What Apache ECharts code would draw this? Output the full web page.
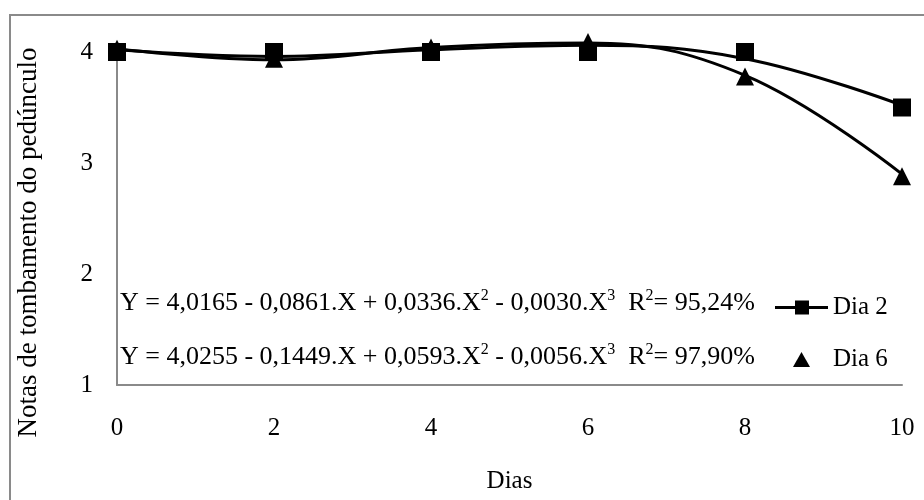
<!DOCTYPE html>
<html>
<head>
<meta charset="utf-8">
<script src="https://cdn.jsdelivr.net/npm/echarts@6/dist/echarts.min.js"></script>
<style>
  html, body { margin: 0; padding: 0; background: #fff; }
  #chart { width: 924px; height: 500px; }
</style>
</head>
<body>
<div id="chart"></div>
<script>
// dias de avaliação
const dias = [0, 2, 4, 6, 8, 10]

// valores observados (marcadores)
const dia2Obs = [4, 4, 4, 4, 4, 3.5]
const dia6Obs = [4.03, 3.94, 4.04, 4.09, 3.78, 2.88]

// curvas ajustadas
const dia2Curve = [4.02, 3.96, 4.02, 4.06, 3.94, 3.52]
const dia6Curve = [4.03, 3.93, 4.04, 4.08, 3.79, 2.9]

const yTicks = [1, 2, 3, 4]

const eq1 = ['Y = 4,0165 - 0,0861.X + 0,0336.X', '2', ' - 0,0030.X', '3', '  R', '2', '= 95,24%']
const eq2 = ['Y = 4,0255 - 0,1449.X + 0,0593.X', '2', ' - 0,0056.X', '3', '  R', '2', '= 97,90%']

const FONT = 'Liberation Serif'
const GRAY = '#8a8a8a'

const pairs = (xs, ys) => xs.map((x, i) => [x, ys[i]])

// monta texto rico com expoentes
function richEq(parts) {
  return parts.map((p, i) => (i % 2 ? `{s|${p}}` : `{n|${p}}`)).join('')
}

const eqRich = {
  n: { fontFamily: FONT, fontSize: 26, lineHeight: 30, fill: '#000' },
  s: { fontFamily: FONT, fontSize: 16, lineHeight: 30, verticalAlign: 'top', fill: '#000' }
}

const chart = echarts.init(document.getElementById('chart'))

const option = {
  animation: false,
  backgroundColor: '#fff',
  textStyle: { fontFamily: FONT },
  grid: { left: 117, right: 22, top: 52, bottom: 115 },
  xAxis: {
    type: 'value',
    min: 0,
    max: 10,
    interval: 2,
    name: 'Dias',
    nameLocation: 'middle',
    nameGap: 84,
    nameTextStyle: { fontFamily: FONT, fontSize: 25, color: '#000' },
    axisLine: { lineStyle: { color: GRAY, width: 2 } },
    axisTick: { show: false },
    splitLine: { show: false },
    axisLabel: { fontFamily: FONT, fontSize: 25, color: '#000', margin: 31 }
  },
  yAxis: {
    type: 'value',
    min: yTicks[0],
    max: yTicks[yTicks.length - 1],
    interval: 1,
    name: 'Notas de tombamento do pedúnculo',
    nameLocation: 'middle',
    nameGap: 75,
    nameTextStyle: { fontFamily: FONT, fontSize: 27, color: '#000', padding: [0, 48, 0, 0] },
    axisLine: { show: true, lineStyle: { color: GRAY, width: 2 } },
    axisTick: { show: false },
    splitLine: { show: false },
    axisLabel: { fontFamily: FONT, fontSize: 25, color: '#000', margin: 24 }
  },
  legend: [
    {
      left: 770,
      top: 290,
      itemWidth: 53,
      itemHeight: 14,
      data: [{ name: 'Dia 2', icon: 'path://M0,5.5H20V0H34V5.5H53V8.5H34V14H20V8.5H0Z' }],
      textStyle: { fontFamily: FONT, fontSize: 25, color: '#000' }
    },
    {
      left: 788,
      top: 342,
      itemWidth: 17,
      itemHeight: 15,
      data: [{ name: 'Dia 6', icon: 'triangle' }],
      textStyle: { fontFamily: FONT, fontSize: 25, color: '#000', padding: [0, 0, 0, 18] }
    }
  ],
  graphic: [
    {
      type: 'rect',
      shape: { x: 10, y: 15, width: 940, height: 520 },
      style: { fill: 'none', stroke: GRAY, lineWidth: 2 },
      silent: true
    },
    {
      type: 'text',
      left: 120,
      top: 288,
      style: { text: richEq(eq1), rich: eqRich }
    },
    {
      type: 'text',
      left: 120,
      top: 342,
      style: { text: richEq(eq2), rich: eqRich }
    }
  ],
  series: [
    {
      name: 'curva2',
      type: 'line',
      smooth: 0.4,
      showSymbol: false,
      silent: true,
      clip: false,
      data: pairs(dias, dia2Curve),
      lineStyle: { color: '#000', width: 3 },
      z: 2
    },
    {
      name: 'curva6',
      type: 'line',
      smooth: 0.4,
      showSymbol: false,
      silent: true,
      clip: false,
      data: pairs(dias, dia6Curve),
      lineStyle: { color: '#000', width: 3 },
      z: 2
    },
    {
      name: 'Dia 6',
      type: 'scatter',
      symbol: 'triangle',
      symbolSize: 18,
      clip: false,
      data: pairs(dias, dia6Obs),
      itemStyle: { color: '#000', opacity: 1 },
      z: 3
    },
    {
      name: 'Dia 2',
      type: 'scatter',
      symbol: 'rect',
      symbolSize: 18,
      clip: false,
      data: pairs(dias, dia2Obs),
      itemStyle: { color: '#000', opacity: 1 },
      z: 4
    }
  ]
}

chart.setOption(option)
</script>
</body>
</html>
